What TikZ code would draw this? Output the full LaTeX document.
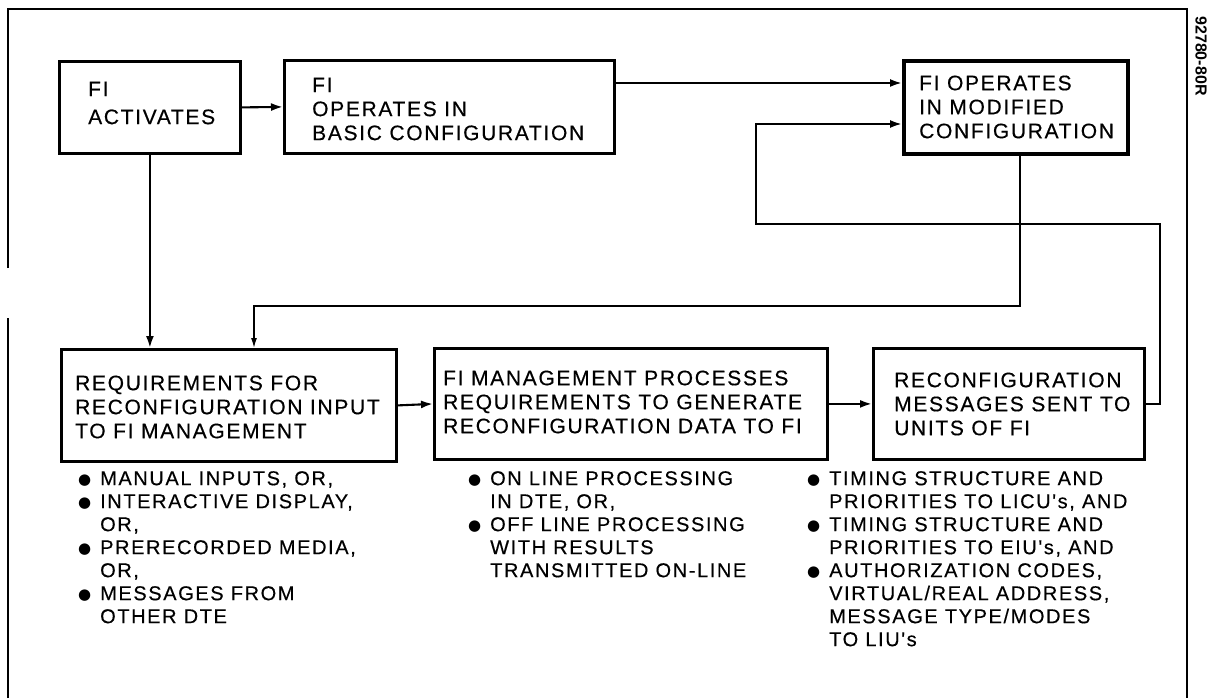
\documentclass[tikz,border=0pt]{standalone}
\usepackage{fontspec}
\setmainfont{Liberation Sans}
\newfontfamily\lblfont[LetterSpace=8,FakeBold=0.4]{Liberation Sans}
\newfontfamily\symfont{DejaVu Sans}
\usetikzlibrary{arrows.meta}
\newcommand\bul{\llap{\smash{\raisebox{0.5pt}{\symfont\fontsize{15}{15}\selectfont ●}}\hspace{9pt}}}
\begin{document}
\begin{tikzpicture}[x=1pt,y=-1pt,
  box/.style={draw, line width=2.8pt, inner sep=0pt, anchor=north west},
  btext/.style={anchor=west, align=left, inner sep=0pt, font=\lblfont\fontsize{21}{24}\selectfont},
  ltext/.style={anchor=north west, align=left, inner sep=0pt, font=\lblfont\fontsize{20}{23}\selectfont},
  conn/.style={line width=2.1pt, -{Latex[length=12pt,width=8pt]}},
  thinconn/.style={line width=1.4pt, -{Latex[length=10pt,width=6pt]}},
  frame/.style={line width=2.2pt},
]
\useasboundingbox[fill=white] (0,0) rectangle (1214,698);
% outer frame
\draw[frame] (8,698) -- (8,318);
\draw[frame] (8,268) -- (8,9) -- (1187,9) -- (1187,698);
\node[rotate=-90, inner sep=0pt, font=\bfseries\fontsize{16}{16}\selectfont] (code) at (1201,56) {92780-80R};
% boxes
\node[box, minimum width=181pt, minimum height=92pt] (b1) at (58,60) {};
\node[box, minimum width=330pt, minimum height=93pt] (b2) at (283,59) {};
\node[box, line width=4pt, minimum width=224pt, minimum height=93pt] (b3) at (902,59) {};
\node[box, minimum width=335pt, minimum height=112pt] (b4) at (60,348) {};
\node[box, minimum width=393pt, minimum height=111pt] (b5) at (433,347) {};
\node[box, minimum width=271pt, minimum height=111pt] (b6) at (872,347) {};
% box texts
\node[btext, font=\lblfont\fontsize{21}{28}\selectfont] (t1) at (88,103) {FI\\ACTIVATES};
\node[btext] (t2) at (312,109) {FI\\OPERATES IN\\BASIC CONFIGURATION};
\node[btext] (t3) at (919,107) {FI OPERATES\\IN MODIFIED\\CONFIGURATION};
\node[btext] (t4) at (75,407) {REQUIREMENTS FOR\\RECONFIGURATION INPUT\\TO FI MANAGEMENT};
\node[btext] (t5) at (443,402) {FI MANAGEMENT PROCESSES\\REQUIREMENTS TO GENERATE\\RECONFIGURATION DATA TO FI};
\node[btext] (t6) at (894,404) {RECONFIGURATION\\MESSAGES SENT TO\\UNITS OF FI};
% lists
\node[ltext] (l4) at (100,471) {\bul MANUAL INPUTS, OR,\\\bul INTERACTIVE DISPLAY,\\OR,\\\bul PRERECORDED MEDIA,\\OR,\\\bul MESSAGES FROM\\OTHER DTE};
\node[ltext] (l5) at (490,471) {\bul ON LINE PROCESSING\\IN DTE, OR,\\\bul OFF LINE PROCESSING\\WITH RESULTS\\TRANSMITTED ON-LINE};
\node[ltext] (l6) at (829,471) {\bul TIMING STRUCTURE AND\\PRIORITIES TO LICU's, AND\\\bul TIMING STRUCTURE AND\\PRIORITIES TO EIU's, AND\\\bul AUTHORIZATION CODES,\\VIRTUAL/REAL ADDRESS,\\MESSAGE TYPE/MODES\\TO LIU's};
% routing coordinates
\coordinate (ya) at (0,83);
\coordinate (yb) at (0,124);
\coordinate (yc) at (0,224);
\coordinate (yd) at (0,306);
\coordinate (xa) at (756,0);
\coordinate (xb) at (1160,0);
\coordinate (xc) at (1020,0);
\coordinate (xd) at (254,0);
% connectors
\draw[conn] (b1.east) -- (b2.west);
\draw[conn] (b2.east |- ya) -- (b3.west |- ya);
\draw[conn] (b6.east) -- (xb |- b6.east) -- (xb |- yc) -- (xa |- yc) -- (xa |- yb) -- (b3.west |- yb);
\draw[conn] (b1.south) -- (b1.south |- b4.north);
\draw[thinconn] (xc |- b3.south) -- (xc |- yd) -- (xd |- yd) -- (xd |- b4.north);
\draw[conn] (b4.east) -- (b5.west);
\draw[conn] (b5.east) -- (b6.west);
\end{tikzpicture}
\end{document}
